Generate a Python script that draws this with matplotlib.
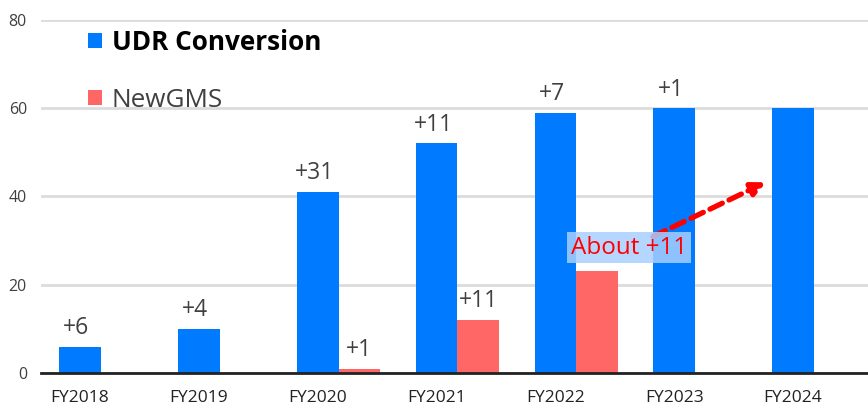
import matplotlib
matplotlib.use("Agg")
import matplotlib.pyplot as plt
import numpy as np

plt.rcParams['font.family'] = ['Open Sans', 'DejaVu Sans']

years = ["FY2018", "FY2019", "FY2020", "FY2021", "FY2022", "FY2023", "FY2024"]
udr = [6, 10, 41, 52, 59, 60, 60]
udr_labels = ["+6", "+4", "+31", "+11", "+7", "+1", ""]
newgms = [0, 0, 1, 12, 23, 0, 0]
newgms_labels = ["", "", "+1", "+11", "", "", ""]
yticks = [0, 20, 40, 60, 80]

blue = "#007BFF"
red = "#FF6666"
txt = "#404040"

fig = plt.figure(figsize=(8.68, 4.05), dpi=100)
ax = fig.add_axes([0.047, 0.079, 0.953, 0.872])

x = np.arange(len(years))
w = 0.35
b1 = ax.bar(x, udr, width=w, color=blue, zorder=3, label="UDR Conversion")
b2 = ax.bar(x + w, newgms, width=w, color=red, zorder=3, label="NewGMS")

for xi, v, lab in zip(x, udr, udr_labels):
    if lab:
        ax.text(xi - 0.03, v + 1.5, lab, ha="center", va="bottom", fontsize=16.5, color=txt)
for xi, v, lab in zip(x + w, newgms, newgms_labels):
    if lab:
        ax.text(xi, v + 1.5, lab, ha="center", va="bottom", fontsize=16.5, color=txt)

# projected increase arrow
ax.annotate("", xy=(5.77, 43.2), xytext=(4.82, 30.9),
            arrowprops=dict(arrowstyle="-|>,head_length=0.8,head_width=0.4",
                            color="#FF0000", lw=3.8, linestyle=(0, (2.6, 1.4)),
                            shrinkA=0, shrinkB=0),
            zorder=4)
ax.text(4.62, 28.4, "About +11", ha="center", va="center", fontsize=17.5,
        color="#FF0000", zorder=5,
        bbox=dict(boxstyle="square,pad=0.15", facecolor="#A8CFFF", edgecolor="none", alpha=0.85))

ax.set_ylim(0, 80)
ax.set_xlim(-0.33, 6.63)
ax.set_yticks(yticks)
ax.set_xticks(x)
ax.set_xticklabels(years)
ax.tick_params(axis="both", length=0, colors=txt, labelsize=11.5)
ax.tick_params(axis="x", pad=12, labelsize=12.5)
ax.tick_params(axis="y", pad=10)
for lab in ax.get_xticklabels():
    lab.set_color("#222222")

ax.yaxis.grid(True, color="#dcdcdc", lw=2, zorder=0)
ax.set_axisbelow(True)
for s in ["left", "right", "top"]:
    ax.spines[s].set_visible(False)
ax.spines["bottom"].set_color("#222222")
ax.spines["bottom"].set_linewidth(2)
ax.spines["bottom"].set_zorder(4)

leg = ax.legend(handles=[b1, b2], loc="upper left", bbox_to_anchor=(0.045, 1.005),
                frameon=False, fontsize=18.8, handlelength=0.5, handleheight=0.5,
                handletextpad=0.4, labelspacing=1.25, borderaxespad=0)
t1, t2 = leg.get_texts()
t1.set_fontweight("bold")
t1.set_color("black")
t2.set_color(txt)

fig.savefig("out.png", dpi=100, facecolor="white")
